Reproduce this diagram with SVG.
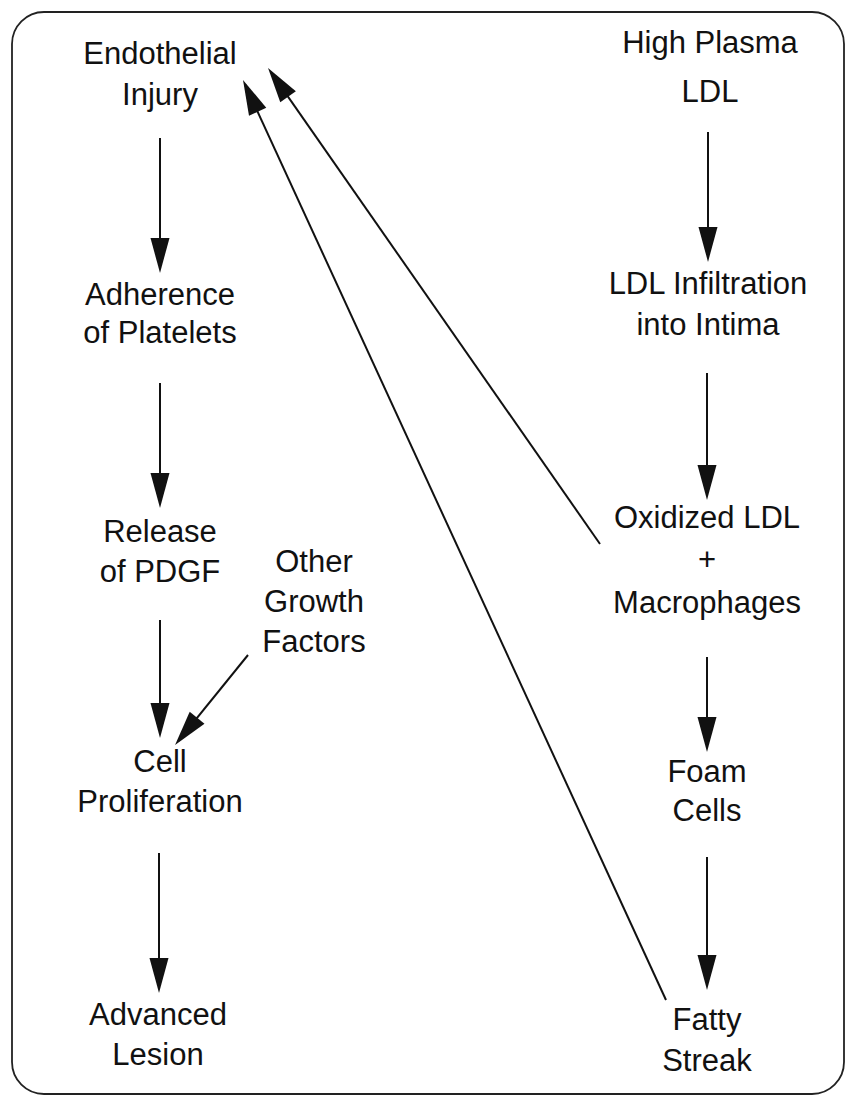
<svg xmlns="http://www.w3.org/2000/svg" width="847" height="1100" viewBox="0 0 847 1100">
<style>
text{font-family:"Liberation Sans",Arial,sans-serif;font-size:31px;fill:#111;text-anchor:middle}
.c line{stroke:#111;stroke-width:2;marker-end:url(#ah)}
</style>
<defs>
<marker id="ah" markerUnits="userSpaceOnUse" markerWidth="36" markerHeight="20" refX="30" refY="9.5" orient="auto" overflow="visible">
<path d="M0,0 L35,9.5 L0,19 Z" fill="#111"/>
</marker>
</defs>
<rect x="12" y="12" width="832" height="1082" rx="32" ry="32" fill="#fff" stroke="#222" stroke-width="1.8"/>
<g id="n-endothelial"><text x="160" y="64">Endothelial</text><text x="160" y="105">Injury</text></g>
<g id="n-adherence"><text x="160" y="305">Adherence</text><text x="160" y="343">of Platelets</text></g>
<g id="n-release"><text x="160" y="542">Release</text><text x="160" y="582">of PDGF</text></g>
<g id="n-other"><text x="314" y="572">Other</text><text x="314" y="612">Growth</text><text x="314" y="652">Factors</text></g>
<g id="n-cell"><text x="160" y="772">Cell</text><text x="160" y="812">Proliferation</text></g>
<g id="n-advanced"><text x="158" y="1025">Advanced</text><text x="158" y="1065">Lesion</text></g>
<g id="n-highldl"><text x="710" y="53">High Plasma</text><text x="710" y="102">LDL</text></g>
<g id="n-infiltration"><text x="708" y="294">LDL Infiltration</text><text x="708" y="335">into Intima</text></g>
<g id="n-oxidized"><text x="707" y="528">Oxidized LDL</text><text x="707" y="570">+</text><text x="707" y="613">Macrophages</text></g>
<g id="n-foam"><text x="707" y="782">Foam</text><text x="707" y="821">Cells</text></g>
<g id="n-fatty"><text x="707" y="1030">Fatty</text><text x="707" y="1071">Streak</text></g>
<g id="connectors" class="c">
<line x1="160" y1="138" x2="160" y2="268"/>
<line x1="160" y1="383" x2="160" y2="503"/>
<line x1="160" y1="620" x2="160" y2="733"/>
<line x1="159" y1="853" x2="159" y2="988"/>
<line x1="248" y1="655" x2="178.2" y2="741.1"/>
<line x1="708" y1="132" x2="708" y2="257"/>
<line x1="707" y1="373" x2="707" y2="495"/>
<line x1="707" y1="657" x2="707" y2="747"/>
<line x1="707" y1="857" x2="707" y2="985"/>
<line x1="600" y1="544" x2="270.9" y2="72.1"/>
<line x1="666" y1="1000" x2="245.1" y2="84.5"/>
</g>
</svg>
